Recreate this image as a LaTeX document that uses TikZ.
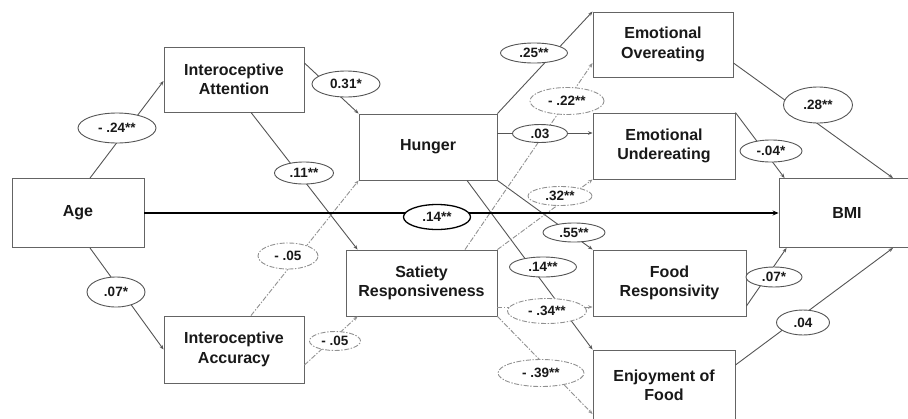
\documentclass[tikz,border=0pt]{standalone}
\usepackage{fontspec}
\setmainfont{Liberation Sans}
\usetikzlibrary{arrows.meta,calc,shapes.geometric}
\definecolor{boxc}{RGB}{100,100,100}
\definecolor{linec}{RGB}{85,85,85}
\definecolor{dashc}{RGB}{145,145,145}
\definecolor{txtc}{RGB}{25,25,25}
\begin{document}
\begin{tikzpicture}[x=1pt,y=-1pt,
  vbox/.style={draw=boxc,line width=0.9pt,rectangle,inner sep=0pt,align=center,text=txtc,
    font=\fontsize{16}{19.3}\selectfont\bfseries},
  coef/.style={draw=linec,line width=0.9pt,ellipse,fill=white,inner sep=0pt,text=txtc,
    font=\fontsize{13.5}{15}\selectfont\bfseries},
  dcoef/.style={coef,draw=dashc,dash pattern=on 5pt off 1.6pt on 1.4pt off 1.6pt},
  apath/.style={draw=linec,line width=0.9pt,-{Stealth[length=4.5pt,width=3.5pt]}},
  dpath/.style={apath,draw=dashc,dash pattern=on 5pt off 1.6pt on 1.4pt off 1.6pt},
  spath/.style={draw=black,line width=1.8pt,-{Stealth[length=6pt,width=5pt]}}
]
\useasboundingbox (0,0) rectangle (908,418);
\fill[white] (0,0) rectangle (908,418);

% boxes
\node[vbox,minimum width=132pt,minimum height=69pt] (age) at (78,213) {Age};
\node[vbox,minimum width=140pt,minimum height=65pt] (ia) at (234,79.5) {Interoceptive\\Attention};
\node[vbox,minimum width=140pt,minimum height=67pt] (iacc) at (234,349.5) {Interoceptive\\Accuracy};
\node[vbox,minimum width=138pt,minimum height=66pt] (hun) at (428,147) {Hunger};
\node[vbox,minimum width=151pt,minimum height=66pt] (sat) at (421.5,283) {Satiety\\Responsiveness};
\node[vbox,minimum width=140pt,minimum height=65pt] (eo) at (663,44.5) {Emotional\\Overeating};
\node[vbox,minimum width=142pt,minimum height=66pt] (eu) at (664,146) {Emotional\\Undereating};
\node[vbox,minimum width=153pt,minimum height=66pt] (fr) at (669.5,283) {Food\\Responsivity};
\node[vbox,minimum width=142pt,minimum height=71pt] (eof) at (664,385.5) {Enjoyment of\\Food};
\node[vbox,minimum width=136pt,minimum height=69pt] (bmi) at (847,213) {BMI};

% solid paths
\draw[apath] ([xshift=12pt]age.north) -- ([yshift=-1.5pt]ia.west);
\draw[apath] ([xshift=12pt]age.south) -- (iacc.west);
\draw[apath] ([yshift=16.5pt]ia.east) -- (hun.north west);
\draw[apath] ([xshift=17pt]ia.south) -- ([xshift=12pt]sat.north west);
\draw[apath] (hun.north east) -- (eo.north west);
\draw[apath] ([yshift=14pt]hun.east) -- ([yshift=13pt]eu.west);
\draw[apath] (hun.south east) -- (fr.north west);
\draw[apath] ([xshift=39pt]hun.south) -- (eof.north west);
\draw[apath] ([yshift=-18.5pt]eo.east) -- ([xshift=46pt]bmi.north);
\draw[apath] (eu.north east) -- ([xshift=6pt]bmi.north west);
\draw[apath] ([yshift=-23pt]fr.east) -- ([xshift=8pt]bmi.south west);
\draw[apath] ([yshift=20.5pt]eof.east) -- ([xshift=46pt]bmi.south);

% dashed paths
\draw[dpath] ([xshift=17pt]iacc.north) -- (hun.south west);
\draw[dpath] ([yshift=-15.5pt]iacc.east) -- ([xshift=12pt]sat.south west);
\draw[dpath] ([xshift=43.5pt]sat.north) -- ([yshift=-18.5pt]eo.west);
\draw[dpath] (sat.north east) -- (eu.south west);
\draw[dpath] ([yshift=-24pt]sat.east) -- ([yshift=-24pt]fr.west);
\draw[dpath] (sat.south east) -- ([yshift=-28.5pt]eof.west);

% direct effect
\draw[spath] (age.east) -- (bmi.west);

% coefficients
\node[coef,minimum width=78pt,minimum height=30pt] (c1) at (117,128) {- .24**};
\node[coef,minimum width=58pt,minimum height=30pt] (c2) at (116,292) {.07*};
\node[coef,minimum width=68pt,minimum height=26pt] (c3) at (346,84) {0.31*};
\node[coef,minimum width=59pt,minimum height=22pt] (c4) at (304,173) {.11**};
\node[dcoef,minimum width=60pt,minimum height=26pt] (c5) at (288,256) {- .05};
\node[dcoef,minimum width=51pt,minimum height=19pt] (c6) at (335,341) {- .05};
\node[coef,draw=black,line width=1.3pt,minimum width=67pt,minimum height=25pt] (c7) at (437,217) {.14**};
\node[coef,minimum width=67pt,minimum height=20pt] (c8) at (534,53) {.25**};
\node[dcoef,minimum width=74pt,minimum height=27pt] (c9) at (567,101) {- .22**};
\node[coef,minimum width=55pt,minimum height=18pt] (c10) at (540,133.5) {.03};
\node[dcoef,minimum width=64pt,minimum height=19pt] (c11) at (560,196) {.32**};
\node[coef,minimum width=62pt,minimum height=19pt] (c12) at (574,232.5) {.55**};
\node[coef,minimum width=67pt,minimum height=20pt] (c13) at (543,267) {.14**};
\node[dcoef,minimum width=79pt,minimum height=25pt] (c14) at (547,311) {- .34**};
\node[dcoef,minimum width=86pt,minimum height=27pt] (c15) at (541,373) {- .39**};
\node[coef,minimum width=69pt,minimum height=36pt] (c16) at (818,105) {.28**};
\node[coef,minimum width=62pt,minimum height=22pt] (c17) at (771,151) {-.04*};
\node[coef,minimum width=56pt,minimum height=20pt] (c18) at (774,277) {.07*};
\node[coef,minimum width=53pt,minimum height=25pt] (c19) at (803,322.5) {.04};
\end{tikzpicture}
\end{document}
